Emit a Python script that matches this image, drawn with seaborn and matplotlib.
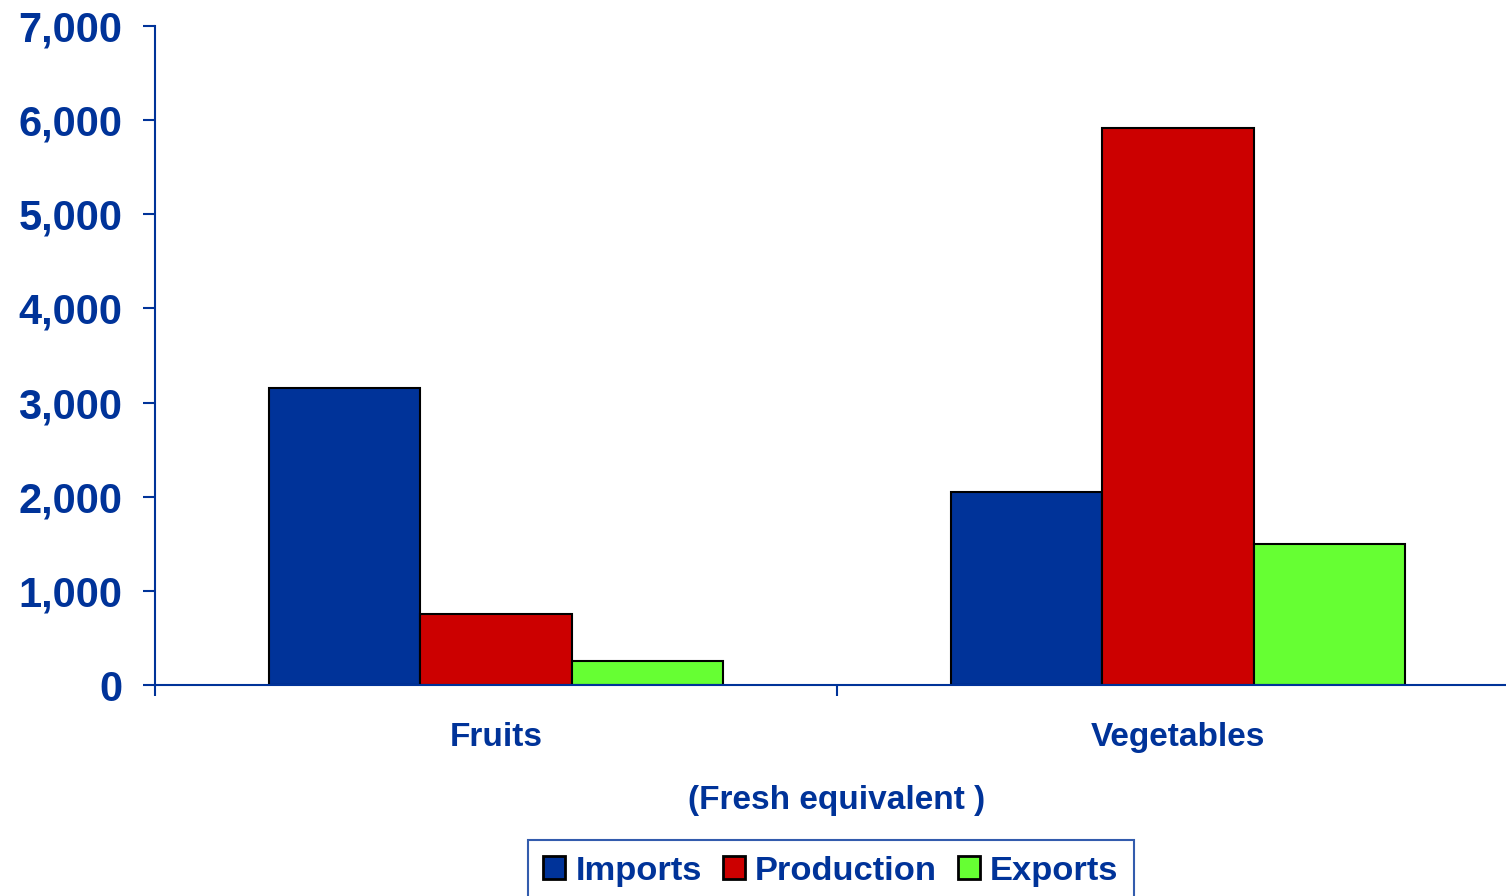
import matplotlib
matplotlib.use("Agg")
import matplotlib.pyplot as plt
import matplotlib.ticker as mticker
import seaborn as sns
import pandas as pd
from matplotlib.patches import Patch

categories = ["Fruits", "Vegetables"]
series = ["Imports", "Production", "Exports"]
imports = [3150, 2050]
production = [750, 5920]
exports = [260, 1500]
colors = ["#003399", "#CC0000", "#66FF33"]
yticks = [0, 1000, 2000, 3000, 4000, 5000, 6000, 7000]

rows = []
for s, vals in zip(series, [imports, production, exports]):
    for c, v in zip(categories, vals):
        rows.append({"cat": c, "series": s, "value": v})
df = pd.DataFrame(rows)

sns.set_style("white")
plt.rcParams["font.family"] = ["Liberation Sans", "DejaVu Sans"]
plt.rcParams["font.weight"] = "bold"
TXT = "#003399"

fig = plt.figure(figsize=(15.06, 8.96), dpi=100)
ax = fig.add_axes([155/1506, 1-685/896, (1519-155)/1506, (685-26)/896])

sns.barplot(data=df, x="cat", y="value", hue="series", order=categories,
            hue_order=series, palette=colors, width=0.666, edgecolor="black",
            linewidth=1.5, ax=ax, legend=False, saturation=1)

ax.set_xlim(-0.5, 1.5)
ax.set_ylim(0, 7000)
ax.set_yticks(yticks)
ax.yaxis.set_major_formatter(mticker.FuncFormatter(lambda v, p: f"{int(v):,}"))
ax.tick_params(axis="y", which="major", left=True, direction="out", length=8.6,
               width=1.5, color=TXT, labelsize=30, labelcolor=TXT, pad=15)
ax.set_xticks([0, 1])
ax.set_xticklabels(categories)
ax.set_xticks([-0.5, 0.5, 1.5], minor=True)
ax.tick_params(axis="x", which="major", length=0, labelsize=24, labelcolor=TXT, pad=26.5)
ax.tick_params(axis="x", which="minor", bottom=True, direction="out", length=8,
               width=1.5, color=TXT)
for lab in ax.get_yticklabels() + ax.get_xticklabels():
    lab.set_fontweight("bold")

ax.set_xlabel("(Fresh equivalent )", fontsize=24, color=TXT, fontweight="bold", labelpad=23)
ax.set_ylabel("")

for side in ["top", "right"]:
    ax.spines[side].set_visible(False)
for side in ["left", "bottom"]:
    ax.spines[side].set_color(TXT)
    ax.spines[side].set_linewidth(1.5)
ax.grid(False)

handles = [Patch(facecolor=c, edgecolor="black", linewidth=2) for c in colors]
leg = fig.legend(handles, series, loc="upper center",
                 bbox_to_anchor=(831/1506, 1-840/896), ncol=3, frameon=True,
                 fancybox=False, prop={"size": 24.8, "weight": "bold"},
                 handlelength=0.64, handleheight=0.64, handletextpad=0.3,
                 columnspacing=0.6, borderpad=0.45, borderaxespad=0)
leg.get_frame().set_edgecolor(TXT)
leg.get_frame().set_linewidth(1.5)
for t in leg.get_texts():
    t.set_color(TXT)

fig.savefig("out.png", dpi=100)
